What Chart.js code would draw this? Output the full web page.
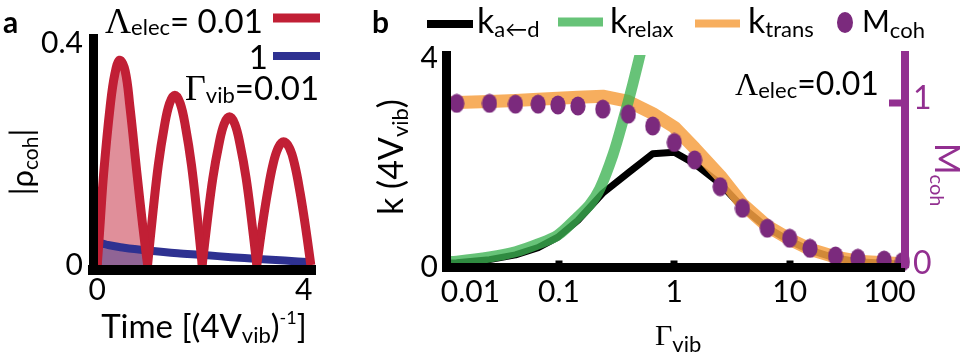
<!DOCTYPE html>
<html>
<head>
<meta charset="utf-8">
<script src="https://cdn.jsdelivr.net/npm/chart.js@4.4.1/dist/chart.umd.min.js"></script>
<style>
html,body{margin:0;padding:0;background:#fff;overflow:hidden;}
#wrap{position:relative;width:967px;height:359px;}
canvas{position:absolute;top:0;}
#ca{left:0;}
#cb{left:330px;}
</style>
</head>
<body>
<div id="wrap">
<canvas id="ca" width="330" height="359"></canvas>
<canvas id="cb" width="637" height="359"></canvas>
</div>
<script>
// ---------- Panel a data ----------
const timeRed = [0,0.05,0.12,0.24,0.33,0.42,0.52,0.61,0.74,0.85,0.94,
  1.04,1.14,1.25,1.35,1.45,1.55,1.65,1.76,1.86,1.96,
  2.06,2.16,2.27,2.37,2.47,2.57,2.67,2.78,2.88,2.98,
  3.08,3.18,3.28,3.38,3.48,3.59,3.69,3.79,3.89,3.99];
const rhoRed = [0,0.07,0.166,0.285,0.345,0.369,0.35,0.285,0.166,0.07,0,
  0.095,0.18,0.248,0.291,0.306,0.291,0.248,0.18,0.095,0,
  0.083,0.157,0.216,0.254,0.267,0.254,0.216,0.157,0.083,0,
  0.069,0.13,0.18,0.211,0.222,0.211,0.18,0.13,0.069,0];
const timeBlue = [0,0.04,0.2,0.5,0.94,1.5,2,2.5,3,3.5,4];
const rhoBlue = [0,0.038,0.036,0.031,0.026,0.021,0.018,0.014,0.011,0.008,0.005];
const timeTicks = [0,4];
const timeTickLabels = ['0','4  '];
const rhoTicks = [0,0.4];
const rhoTickLabels = ['0','0.4'];

// ---------- Panel b data ----------
const gammaLine = [0.0105,0.013,0.025,0.042,0.066,0.098,0.146,0.24,0.4,0.65,1.0,1.5,2.5,3.9,6.4,10,15,25,39,66,100];
const kTrans = [3.14,3.15,3.17,3.19,3.21,3.23,3.25,3.27,3.17,2.94,2.68,2.28,1.75,1.21,0.79,0.54,0.35,0.2,0.12,0.09,0.07];
const kAD = [0.08,0.09,0.15,0.24,0.38,0.58,0.9,1.42,1.81,2.17,2.2,1.98,1.6,1.15,0.76,0.51,0.33,0.18,0.11,0.08,0.06];
const gammaRelax = [0.0105,0.013,0.025,0.042,0.066,0.098,0.146,0.185,0.226,0.294,0.359,0.437,0.55];
const kRelax = [0.11,0.12,0.2,0.3,0.45,0.62,0.97,1.2,1.5,2.15,2.8,3.5,4.4];
const gammaDots = [0.013,0.025,0.042,0.066,0.098,0.146,0.24,0.4,0.65,1.0,1.5,2.5,3.9,6.4,10,15,25,39,66,95];
const mCoh = [0.995,0.995,0.99,0.99,0.985,0.979,0.96,0.93,0.858,0.758,0.652,0.49,0.359,0.238,0.177,0.116,0.07,0.056,0.045,0.035];
const gammaTicks = [0.01,0.1,1,10,100];
const gammaTickLabels = ['       0.01','0.1','1','10','100    '];
const kTicks = [0,1.333,2.667,4];
const kTickLabels = ['0','','','4'];
const mTicks = [0,1];
const mTickLabels = ['0','1'];

// ---------- styles ----------
const SANS = 'Lato, "Open Sans", "Noto Sans", sans-serif';
const SERIF = '"Liberation Serif", "DejaVu Serif", serif';
const RED = '#c11f35', RED_FILL = 'rgba(193,31,53,0.5)';
const BLUE = '#2e3191', BLUE_FILL = 'rgba(46,49,145,0.45)';
const GREEN = 'rgba(60,178,82,0.78)';
const ORANGE = 'rgba(246,160,66,0.85)';
const PDOT = '#7b2a7d', PAXIS = '#922f90';
const f = (s, fam = SANS, w = '') => `${w} ${s}px ${fam}`.trim();

Chart.defaults.font.family = SANS;

function rich(ctx, x, y, parts, align, rot, color) {
  ctx.save();
  ctx.translate(x, y);
  ctx.rotate(rot || 0);
  ctx.textBaseline = 'alphabetic';
  ctx.textAlign = 'left';
  let w = 0;
  for (const p of parts) { ctx.font = p[1]; w += ctx.measureText(p[0]).width; }
  let cx = align === 'center' ? -w / 2 : align === 'right' ? -w : 0;
  for (const p of parts) {
    ctx.font = p[1];
    ctx.fillStyle = p[3] || color || '#000';
    ctx.fillText(p[0], cx, p[2] || 0);
    cx += ctx.measureText(p[0]).width;
  }
  ctx.restore();
}
function seg(ctx, x1, x2, y, w, c) {
  ctx.save(); ctx.strokeStyle = c; ctx.lineWidth = w; ctx.lineCap = 'butt';
  ctx.beginPath(); ctx.moveTo(x1, y); ctx.lineTo(x2, y); ctx.stroke(); ctx.restore();
}

// ---------- Panel a ----------
const redPts = timeRed.map((t, i) => ({x: t, y: rhoRed[i]}));
const arches = [];
let cur = [];
redPts.forEach(p => { cur.push(p); if (p.y === 0 && cur.length > 1) { arches.push(cur); cur = [p]; } });
const bluePts = timeBlue.map((t, i) => ({x: t, y: rhoBlue[i]}));
const blueFillPts = bluePts.filter(p => p.x <= 0.94);

const dsA = [];
dsA.push({data: arches[0], borderWidth: 0, backgroundColor: RED_FILL, fill: 'origin', pointRadius: 0, tension: 0.4, order: 10});
dsA.push({data: blueFillPts, borderWidth: 0, backgroundColor: BLUE_FILL, fill: 'origin', pointRadius: 0, tension: 0.3, order: 9});
dsA.push({data: bluePts, borderColor: BLUE, borderWidth: 8, fill: false, pointRadius: 0, tension: 0.3, order: 8});
arches.forEach(a => dsA.push({data: a, borderColor: RED, borderWidth: 9, fill: false, pointRadius: 0, tension: 0.4, order: 1, borderJoinStyle: 'round'}));

const textA = {
  id: 'textA',
  afterDraw(chart) {
    const c = chart.ctx;
    rich(c, 3, 33, [['a', f(30, SANS, 'bold')]]);
    rich(c, 105, 33, [['Λ', f(36, SERIF)], ['elec', f(22), 2], ['= 0.01', f(33)]]);
    seg(c, 273, 320, 18, 9, RED);
    rich(c, 268, 69, [['1', f(33)]], 'right');
    seg(c, 273, 320, 56, 8, BLUE);
    rich(c, 185, 100, [['Γ', f(36, SERIF)], ['vib', f(22), 3], ['=0.01', f(33)]]);
    rich(c, 33, 162, [['|ρ', f(31)], ['coh', f(21), 5], ['|', f(31)]], 'center', -Math.PI / 2);
    rich(c, 204, 338, [['Time [(4V', f(33)], ['vib', f(22), 5], [')', f(33)], ['-1', f(18), -14], [']', f(33)]], 'center');
  }
};

new Chart(document.getElementById('ca'), {
  type: 'line',
  data: {datasets: dsA},
  options: {
    responsive: false, animation: false, events: [],
    layout: {padding: {top: 38, right: 13, left: 0, bottom: 0}},
    plugins: {legend: {display: false}, tooltip: {enabled: false}},
    scales: {
      x: {
        type: 'linear', min: -0.08, max: 4.08,
        afterBuildTicks: s => { s.ticks = timeTicks.map(v => ({value: v})); },
        afterFit: s => { s.height = 89; },
        grid: {display: false, drawTicks: false},
        border: {display: true, color: '#000', width: 10, z: 1},
        ticks: {callback: (v, i) => timeTickLabels[i], font: {size: 30}, color: '#000', padding: 2, maxRotation: 0, autoSkip: false}
      },
      y: {
        type: 'linear', min: -0.009, max: 0.409,
        afterBuildTicks: s => { s.ticks = rhoTicks.map(v => ({value: v})); },
        afterFit: s => { s.width = 93; },
        grid: {display: false, drawTicks: false},
        border: {display: true, color: '#000', width: 9, z: 1},
        ticks: {callback: (v, i) => rhoTickLabels[i], font: {size: 30}, color: '#000', padding: 10, autoSkip: false}
      }
    }
  },
  plugins: [textA]
});

// ---------- Panel b ----------
const dotImg = document.createElement('canvas');
dotImg.width = 16; dotImg.height = 20;
(function () { const d = dotImg.getContext('2d'); d.fillStyle = PDOT; d.beginPath(); d.ellipse(8, 10, 7.6, 9.6, 0, 0, Math.PI * 2); d.fill(); })();

const OX = 330;
const textB = {
  id: 'textB',
  afterDraw(chart) {
    const c = chart.ctx;
    const X = v => v - OX;
    rich(c, X(372), 33, [['b', f(30, SANS, 'bold')]]);
    seg(c, X(427), X(473), 24, 8, '#000');
    rich(c, X(477), 33, [['k', f(34)], ['a←d', f(22), 4]]);
    seg(c, X(558), X(603), 22, 9, GREEN);
    rich(c, X(610), 33, [['k', f(34)], ['relax', f(22), 4]]);
    seg(c, X(695), X(740), 23.5, 8, ORANGE);
    rich(c, X(748), 33, [['k', f(34)], ['trans', f(22), 4]]);
    c.save(); c.fillStyle = PDOT; c.beginPath(); c.ellipse(X(845), 22.5, 8, 10.5, 0, 0, Math.PI * 2); c.fill(); c.restore();
    rich(c, X(862), 32, [['M', f(30)], ['coh', f(22), 6]]);
    rich(c, X(735), 95, [['Λ', f(32, SERIF)], ['elec', f(22), 3], ['=0.01', f(32)]]);
    rich(c, X(403), 157, [['k (4V', f(34)], ['vib', f(22), 5], [')', f(34)]], 'center', -Math.PI / 2);
    rich(c, X(655), 345, [['Γ', f(30, SERIF)], ['vib', f(22), 7]]);
    rich(c, X(935), 143, [['M', f(34)], ['coh', f(20), 5]], 'left', Math.PI / 2, PAXIS);
  }
};

new Chart(document.getElementById('cb'), {
  type: 'line',
  data: {datasets: [
    {data: gammaDots.map((g, i) => ({x: g, y: mCoh[i]})), yAxisID: 'y2', showLine: false, pointStyle: dotImg, pointRadius: 10, order: 0, clip: false},
    {data: gammaRelax.map((g, i) => ({x: g, y: kRelax[i]})), yAxisID: 'y', borderColor: GREEN, borderWidth: 11, pointRadius: 0, tension: 0.3, fill: false, order: 1, clip: 0, borderJoinStyle: 'round'},
    {data: gammaLine.map((g, i) => ({x: g, y: kTrans[i]})), yAxisID: 'y', borderColor: ORANGE, borderWidth: 13, pointRadius: 0, tension: 0, fill: false, order: 2, clip: 0, borderJoinStyle: 'round'},
    {data: gammaLine.map((g, i) => ({x: g, y: kAD[i]})), yAxisID: 'y', borderColor: '#000', borderWidth: 7, pointRadius: 0, tension: 0, fill: false, order: 3, clip: 0, borderJoinStyle: 'round'}
  ]},
  options: {
    responsive: false, animation: false, events: [],
    layout: {padding: {top: 55, right: 0, left: 0, bottom: 0}},
    plugins: {legend: {display: false}, tooltip: {enabled: false}},
    scales: {
      x: {
        type: 'logarithmic', min: 0.0105, max: 100,
        afterBuildTicks: s => { s.ticks = gammaTicks.map(v => ({value: v})); },
        afterFit: s => { s.height = 91.5; },
        grid: {display: true, drawOnChartArea: false, drawTicks: true, tickLength: -7, tickWidth: 7, lineWidth: 0, z: 1,
               tickColor: ctx => (ctx.index === 0 || ctx.index === gammaTicks.length - 1) ? 'rgba(0,0,0,0)' : '#000'},
        border: {display: true, color: '#000', width: 9, z: 1},
        ticks: {callback: (v, i) => gammaTickLabels[i], font: {size: 30}, color: '#000', padding: 14, maxRotation: 0, autoSkip: false}
      },
      y: {
        type: 'linear', position: 'left', min: 0, max: 4.057,
        afterBuildTicks: s => { s.ticks = kTicks.map(v => ({value: v})); },
        afterFit: s => { s.width = 116; },
        grid: {display: true, drawOnChartArea: false, drawTicks: true, tickLength: 4, tickWidth: 5, lineWidth: 0, tickColor: '#000', z: 1},
        border: {display: true, color: '#000', width: 9, z: 1},
        ticks: {callback: (v, i) => kTickLabels[i], font: {size: 30}, color: '#000', padding: 4, autoSkip: false}
      },
      y2: {
        type: 'linear', position: 'right', min: 0, max: 1.288,
        afterBuildTicks: s => { s.ticks = mTicks.map(v => ({value: v})); },
        afterFit: s => { s.width = 62; },
        grid: {display: true, drawOnChartArea: false, drawTicks: true, tickLength: -16, tickWidth: 7, lineWidth: 0, z: 1,
               tickColor: ctx => ctx.index === 0 ? 'rgba(0,0,0,0)' : PAXIS},
        border: {display: true, color: PAXIS, width: 8, z: 1},
        ticks: {callback: (v, i) => mTickLabels[i], font: {size: 32}, color: PAXIS, padding: 24, labelOffset: -4, autoSkip: false}
      }
    }
  },
  plugins: [textB]
});
</script>
</body>
</html>
